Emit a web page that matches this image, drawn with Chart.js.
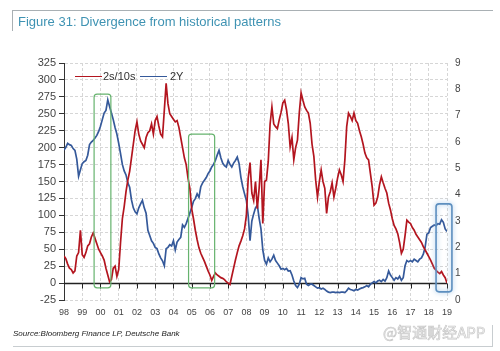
<!DOCTYPE html>
<html>
<head>
<meta charset="utf-8">
<script src="https://cdn.jsdelivr.net/npm/chart.js@4.4.1/dist/chart.umd.min.js"></script>
<style>
html,body{margin:0;padding:0;background:#fff;}
#wrap{position:relative;width:500px;height:351px;overflow:hidden;font-family:"Liberation Sans",Arial,sans-serif;}
#chart{position:absolute;left:0;top:0;}
#frameTop{position:absolute;left:12px;top:10px;width:481px;height:0;border-top:1px solid #a9b0b4;}
#frameLeft{position:absolute;left:12px;top:10px;width:0;height:21px;border-left:1px solid #a9b0b4;}
#title{position:absolute;left:18px;top:14px;font-size:13px;color:#3f93b3;white-space:nowrap;line-height:15px;}
#source{position:absolute;left:13px;top:329px;font-size:8px;font-style:italic;color:#222;white-space:nowrap;line-height:10px;}
#frameBottom{position:absolute;left:13px;top:346px;width:480px;height:0;border-top:1px solid #c8cdd0;}
#frameRight{position:absolute;left:492px;top:325px;width:0;height:21px;border-left:1px solid #c8cdd0;}
#wm{position:absolute;left:383px;top:322px;font-size:15px;color:#f6f6f6;-webkit-text-stroke:0.7px #c9c9c9;white-space:nowrap;font-family:"Noto Sans CJK SC","Liberation Sans",sans-serif;line-height:20px;}
.leg{position:absolute;top:70px;font-size:11px;color:#333;line-height:13px;white-space:nowrap;}
.legline{position:absolute;height:0;top:76px;border-top:1.5px solid;}
</style>
</head>
<body>
<div id="wrap">
  <canvas id="chart" width="500" height="351"></canvas>
  <div id="frameTop"></div>
  <div id="frameLeft"></div>
  <div id="title">Figure 31: Divergence from historical patterns</div>
  <div class="legline" style="left:75px;width:27px;border-color:#b3151f;"></div>
  <div class="leg" style="left:103px;">2s/10s</div>
  <div class="legline" style="left:140px;width:27px;border-color:#35599a;"></div>
  <div class="leg" style="left:170px;">2Y</div>
  <div id="source">Source:Bloomberg Finance LP, Deutsche Bank</div>
  <div id="wm">@智通财经APP</div>
  <div id="frameBottom"></div>
  <div id="frameRight"></div>
</div>
<script>
// sampled every 0.1 year starting 1998.0
const startYear = 1998;
const stepYears = 0.1;

// 2s/10s spread, bp (left axis)
const spread2s10s = [
  40, 36, 28, 22, 20, 15, 18, 40, 45, 78,
  42, 38, 45, 55, 58, 68, 74, 66, 58, 50,
  45, 40, 34, 22, 12, 2, 5, 22, 25, 10,
  20, 60, 95, 113, 135, 152, 165, 185, 205, 225,
  238, 220, 210, 205, 200, 215, 222, 225, 235, 220,
  240, 246, 232, 220, 216, 255, 295, 265, 250, 246,
  242, 238, 240, 230, 215, 200, 185, 175, 155, 140,
  110, 95, 78, 64, 52, 44, 38, 32, 25, 18,
  12, 4, 10, 15, 12, 10, 8, 7, 5, 2,
  0, -2, 10, 22, 34, 45, 55, 62, 70, 80,
  100, 155, 178, 133, 122, 150, 110, 140, 182, 88,
  150, 152, 180, 235, 260, 235, 231, 228, 241, 252,
  266, 270, 256, 235, 201, 215, 182, 200, 211, 251,
  281, 270, 260, 255, 251, 236, 205, 187, 152, 127,
  150, 167, 150, 140, 103, 127, 135, 148, 127, 140,
  155, 167, 160, 150, 182, 231, 251, 246, 240, 251,
  240, 236, 225, 216, 205, 192, 185, 182, 162, 142,
  115, 118, 127, 145, 157, 148, 140, 133, 118, 108,
  95, 85, 80, 73, 60, 44, 50, 70, 93, 90,
  88, 82, 78, 72, 68, 64, 60, 54, 49, 44,
  39, 34, 28, 22, 19, 16, 14, 17, 12, 8,
  0
];

// 2Y yield, % (right axis)
const yield2Y = [
  5.7, 5.8, 5.95, 5.9, 5.87, 5.75, 5.68, 5.35, 4.7, 4.95,
  5.18, 5.25, 5.3, 5.5, 5.9, 6.0, 6.06, 6.15, 6.25, 6.4,
  6.6, 6.85, 7.1, 7.2, 7.6, 7.35, 7.1, 6.85, 6.55, 6.3,
  5.95, 5.56, 5.15, 4.9, 4.75, 4.45, 4.28, 3.8, 3.5, 3.35,
  3.27, 3.5, 3.65, 3.78, 3.5, 3.3, 2.65, 2.45, 2.25, 2.15,
  2.0, 1.95, 1.75, 1.6, 1.49, 1.3, 1.95, 2.0, 2.1, 2.05,
  2.25, 1.9, 2.2, 2.3, 2.38, 2.85, 2.76, 2.9, 3.1, 3.3,
  3.5, 3.75, 3.85, 4.03, 3.9, 4.3, 4.45, 4.55, 4.65, 4.8,
  4.9, 5.05, 5.15, 5.3, 5.5, 5.68, 5.4, 5.2, 5.1, 5.05,
  5.3, 5.15, 5.05, 5.2, 5.3, 5.43, 5.18, 4.66, 4.3, 4.03,
  3.78, 3.2, 2.25, 3.0, 3.27, 3.5, 3.6, 3.1, 2.7, 1.9,
  1.5, 1.36, 1.6, 1.45, 1.55, 1.7, 1.5, 1.4, 1.3, 1.17,
  1.2, 1.15, 1.2, 1.1, 1.11, 0.95, 0.72, 0.55, 0.47, 0.6,
  0.85, 0.8, 0.82, 0.6, 0.55, 0.6, 0.6, 0.55, 0.5, 0.45,
  0.47, 0.42, 0.45, 0.4, 0.34, 0.3, 0.28, 0.3, 0.3, 0.28,
  0.3, 0.28, 0.3, 0.3, 0.28, 0.35, 0.45, 0.4, 0.38, 0.35,
  0.4, 0.38, 0.42, 0.45, 0.47, 0.5, 0.55, 0.5, 0.6, 0.65,
  0.7, 0.65, 0.72, 0.75, 0.7, 0.78, 0.72, 0.85, 1.1, 0.95,
  0.85, 0.75, 0.85, 0.8, 0.9, 0.75, 0.85, 1.3, 1.5, 1.45,
  1.5, 1.45, 1.55, 1.5, 1.45, 1.55, 1.6, 1.74, 2.0, 2.5,
  2.55, 2.75, 2.8, 2.85, 2.82, 2.9, 2.88, 3.05, 2.95, 2.7,
  2.6
];

// highlighted periods: [fromYear, toYear, lowSpread, highSpread]
const greenBoxes = [
  [1999.65, 2000.57, -7, 279],
  [2004.83, 2006.26, -7, 220]
];
const blueBoxes = [
  [2018.4, 2019.27, -13, 117]
];

const leftTicks = {min: -25, max: 325, step: 25};
const rightTicks = {min: 0, max: 9, step: 1};
const xRange = {min: 1998, max: 2019};

const RED = '#b3151f';
const BLUE = '#35599a';

const redPts = spread2s10s.map((v, i) => ({x: +(startYear + i * stepYears).toFixed(2), y: v}));
const bluePts = yield2Y.map((v, i) => ({x: +(startYear + i * stepYears).toFixed(2), y: v}));

function roundRect(ctx, x, y, w, h, r) {
  ctx.beginPath();
  ctx.moveTo(x + r, y);
  ctx.lineTo(x + w - r, y);
  ctx.quadraticCurveTo(x + w, y, x + w, y + r);
  ctx.lineTo(x + w, y + h - r);
  ctx.quadraticCurveTo(x + w, y + h, x + w - r, y + h);
  ctx.lineTo(x + r, y + h);
  ctx.quadraticCurveTo(x, y + h, x, y + h - r);
  ctx.lineTo(x, y + r);
  ctx.quadraticCurveTo(x, y, x + r, y);
  ctx.closePath();
}

const zeroLinePlugin = {
  id: 'zeroLine',
  beforeDatasetsDraw(chart) {
    const {ctx, chartArea, scales} = chart;
    const y0 = Math.round(scales.yL.getPixelForValue(0)) + 0.5;
    ctx.save();
    ctx.strokeStyle = '#222';
    ctx.lineWidth = 1.3;
    ctx.beginPath();
    ctx.moveTo(chartArea.left, y0);
    ctx.lineTo(chartArea.right, y0);
    ctx.stroke();
    ctx.lineWidth = 1;
    for (let yr = xRange.min + 1; yr <= xRange.max; yr++) {
      const x = Math.round(scales.x.getPixelForValue(yr)) + 0.5;
      ctx.beginPath();
      ctx.moveTo(x, y0);
      ctx.lineTo(x, y0 + 5);
      ctx.stroke();
    }
    ctx.restore();
  }
};

const boxPlugin = {
  id: 'boxes',
  afterDatasetsDraw(chart) {
    const {ctx, scales} = chart;
    const draw = (b, color, glow) => {
      const x1 = scales.x.getPixelForValue(b[0]);
      const x2 = scales.x.getPixelForValue(b[1]);
      const y1 = scales.yL.getPixelForValue(b[3]);
      const y2 = scales.yL.getPixelForValue(b[2]);
      ctx.save();
      if (glow) {
        ctx.shadowColor = 'rgba(130,180,225,0.9)';
        ctx.shadowBlur = 5;
        ctx.lineWidth = 1.6;
      } else {
        ctx.lineWidth = 1.2;
      }
      ctx.strokeStyle = color;
      roundRect(ctx, x1, y1, x2 - x1, y2 - y1, 3);
      ctx.stroke();
      ctx.restore();
    };
    greenBoxes.forEach(b => draw(b, '#66b36e', false));
    blueBoxes.forEach(b => draw(b, '#5d8fbf', true));
  }
};

Chart.defaults.font.family = "'Liberation Sans', Arial, sans-serif";

new Chart(document.getElementById('chart').getContext('2d'), {
  type: 'line',
  data: {
    datasets: [
      {label: '2s/10s', data: redPts, borderColor: RED, borderWidth: 1.7, pointRadius: 0, yAxisID: 'yL', tension: 0},
      {label: '2Y', data: bluePts, borderColor: BLUE, borderWidth: 1.7, pointRadius: 0, yAxisID: 'yR', tension: 0}
    ]
  },
  options: {
    responsive: false,
    animation: false,
    events: [],
    layout: {padding: {left: 10, right: 23, top: 63, bottom: 26}},
    plugins: {legend: {display: false}, tooltip: {enabled: false}},
    scales: {
      x: {
        type: 'linear', min: xRange.min, max: xRange.max,
        ticks: {stepSize: 1, autoSkip: false, maxRotation: 0, padding: 7, color: '#444', font: {size: 9},
          callback: v => String(Math.round(v) % 100).padStart(2, '0')},
        grid: {color: '#d6d6d6', lineWidth: 1, drawTicks: false},
        border: {display: false, dash: [3, 2]},
        afterFit: s => { s.height = 25; }
      },
      yL: {
        position: 'left', min: leftTicks.min, max: leftTicks.max,
        ticks: {stepSize: leftTicks.step, padding: 3, color: '#444', font: {size: 11}},
        grid: {color: '#d6d6d6', lineWidth: 1, tickColor: '#333', tickLength: 5},
        border: {display: true, color: '#333', width: 1, dash: [3, 2]},
        afterFit: s => { s.width = 54; }
      },
      yR: {
        position: 'right', min: rightTicks.min, max: rightTicks.max,
        ticks: {stepSize: rightTicks.step, padding: 8, color: '#444', font: {size: 10}},
        grid: {drawOnChartArea: false, drawTicks: false},
        border: {display: false},
        afterFit: s => { s.width = 30; }
      }
    }
  },
  plugins: [zeroLinePlugin, boxPlugin]
});
</script>
</body>
</html>
